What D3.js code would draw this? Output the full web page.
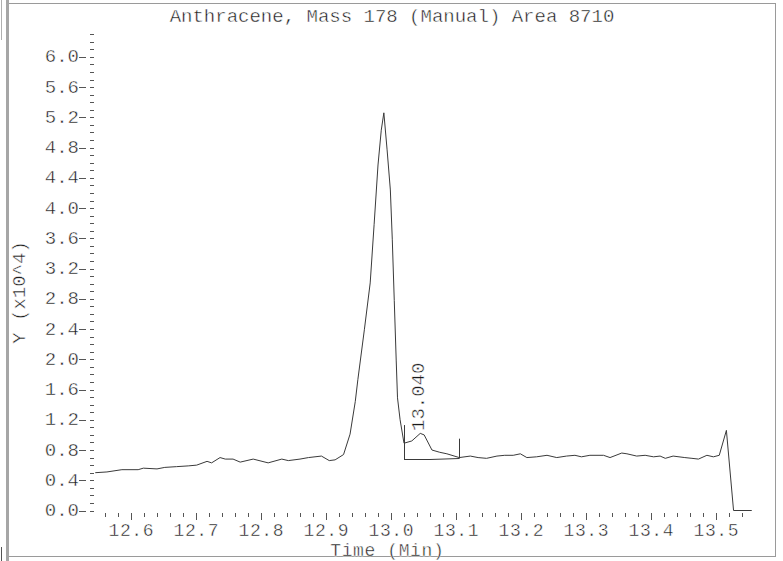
<!DOCTYPE html>
<html>
<head>
<meta charset="utf-8">
<script src="https://cdn.jsdelivr.net/npm/d3@7"></script>
<style>
  html, body { margin: 0; padding: 0; background: #fff; }
  svg { display: block; }
  /* thin, plotter-style lettering: a hairline of white laid over each glyph */
  text {
    font-family: "Liberation Mono", "DejaVu Sans Mono", monospace;
    fill: #1a1a1a;
    stroke: #fff; stroke-width: 0.45px; paint-order: fill;
  }
</style>
</head>
<body>
<svg id="chart" width="783" height="561"></svg>
<script>
// Retention time (min) of each sampled point of the mass-178 trace
const times = [
  12.545, 12.563, 12.586, 12.611, 12.619, 12.640, 12.652, 12.670, 12.688, 12.701,
  12.717, 12.724, 12.737, 12.745, 12.757, 12.768, 12.788, 12.811, 12.832, 12.842,
  12.860, 12.873, 12.893, 12.905, 12.914, 12.927, 12.937, 12.945, 12.949, 12.959,
  12.968, 12.974, 12.980, 12.985, 12.989, 12.994, 12.999, 13.002, 13.005, 13.008,
  13.010, 13.014, 13.020, 13.032, 13.045, 13.051, 13.063, 13.075, 13.086, 13.105,
  13.122, 13.134, 13.147, 13.163, 13.175, 13.188, 13.199, 13.209, 13.224, 13.240,
  13.255, 13.270, 13.283, 13.293, 13.306, 13.327, 13.337, 13.355, 13.363, 13.378,
  13.391, 13.404, 13.414, 13.422, 13.434, 13.452, 13.463, 13.473, 13.486, 13.496,
  13.505, 13.516, 13.527, 13.555
];
// Abundance (x10^4) at each of those times
const abundance = [
  0.50, 0.51, 0.54, 0.54, 0.56, 0.55, 0.57, 0.58, 0.59, 0.60,
  0.65, 0.63, 0.70, 0.68, 0.68, 0.64, 0.68, 0.63, 0.68, 0.66,
  0.68, 0.70, 0.72, 0.66, 0.67, 0.74, 1.01, 1.44, 1.73, 2.39,
  3.01, 3.78, 4.57, 5.03, 5.26, 4.77, 4.24, 3.58, 2.78, 1.99,
  1.49, 1.20, 0.89, 0.92, 1.02, 1.00, 0.80, 0.77, 0.75, 0.70,
  0.72, 0.70, 0.69, 0.72, 0.73, 0.73, 0.75, 0.70, 0.71, 0.73,
  0.70, 0.72, 0.73, 0.71, 0.73, 0.73, 0.70, 0.76, 0.75, 0.72,
  0.73, 0.71, 0.72, 0.69, 0.72, 0.70, 0.69, 0.68, 0.73, 0.71,
  0.73, 1.06, 0.00, 0.00
];

// Integration of the 13.040 peak: baseline points and marker heights
const peakLabel = "13.040";
const peakTime = 13.040;
const baseTimes = [13.020, 13.060, 13.105];
const baseValues = [0.677, 0.677, 0.698];
const markerTops = [1.13, 0.95];

// Axis ticks
const yMajorTicks = [0.0, 0.4, 0.8, 1.2, 1.6, 2.0, 2.4, 2.8, 3.2, 3.6, 4.0, 4.4, 4.8, 5.2, 5.6, 6.0];
const xMajorTicks = [12.6, 12.7, 12.8, 12.9, 13.0, 13.1, 13.2, 13.3, 13.4, 13.5];

const titleText = "Anthracene, Mass 178 (Manual) Area 8710";
const xTitle = "Time (Min)";
const yTitle = "Y (x10^4)";

const svg = d3.select("#chart");

const x = d3.scaleLinear().domain([12.545, 13.555]).range([95.25, 751.75]);
const y = d3.scaleLinear().domain([0, 6.3]).range([510.5, 34.2]);

// Window frame
const frame = svg.append("g").attr("shape-rendering", "crispEdges");
frame.append("rect").attr("x", 6).attr("y", 0).attr("width", 3).attr("height", 561).attr("fill", "#a6a6a6");
frame.append("line").attr("x1", 1.5).attr("x2", 1.5).attr("y1", 0).attr("y2", 40).attr("stroke", "#b0b0b0");
frame.append("line").attr("x1", 1.5).attr("x2", 1.5).attr("y1", 547).attr("y2", 561).attr("stroke", "#555");
frame.append("line").attr("x1", 9).attr("x2", 776).attr("y1", 3.5).attr("y2", 3.5).attr("stroke", "#9a9a9a");
frame.append("line").attr("x1", 775.5).attr("x2", 775.5).attr("y1", 3).attr("y2", 557).attr("stroke", "#9a9a9a");
frame.append("line").attr("x1", 9).attr("x2", 776).attr("y1", 556.5).attr("y2", 556.5).attr("stroke", "#9a9a9a");

// Title
svg.append("text").attr("x", 392).attr("y", 21.5).attr("text-anchor", "middle")
  .attr("font-size", 19).text(titleText);

// Y axis: minor ticks every 0.1, labelled majors every 0.4
const yMinor = d3.range(0, 63 + 1).map(i => i / 10);
const yAxis = svg.append("g").attr("shape-rendering", "crispEdges").attr("stroke", "#555");
yAxis.selectAll("line.minor").data(yMinor).join("line")
  .attr("class", "minor")
  .attr("x1", 90).attr("x2", 94)
  .attr("y1", d => Math.round(y(d)) + 0.5).attr("y2", d => Math.round(y(d)) + 0.5);
yAxis.selectAll("line.major").data(yMajorTicks).join("line")
  .attr("class", "major")
  .attr("x1", 79).attr("x2", 86)
  .attr("y1", d => Math.round(y(d)) + 0.5).attr("y2", d => Math.round(y(d)) + 0.5);
svg.append("g").selectAll("text").data(yMajorTicks).join("text")
  .attr("x", 79).attr("y", d => y(d) + 5.6)
  .attr("text-anchor", "end").attr("font-size", 19)
  .text(d => d3.format(".1f")(d));

// X axis: minor ticks every 0.02 min, labelled majors every 0.1 min
const xMinor = d3.range(0, 50).map(i => +(12.56 + i * 0.02).toFixed(2));
const xAxis = svg.append("g").attr("shape-rendering", "crispEdges").attr("stroke", "#555");
xAxis.selectAll("line").data(xMinor).join("line")
  .attr("x1", d => Math.round(x(d)) + 0.5).attr("x2", d => Math.round(x(d)) + 0.5)
  .attr("y1", 513)
  .attr("y2", d => xMajorTicks.some(m => Math.abs(m - d) < 1e-6) ? 520 : 517);
svg.append("g").selectAll("text").data(xMajorTicks).join("text")
  .attr("x", d => x(d) + 0.3).attr("y", 535.5)
  .attr("text-anchor", "middle").attr("font-size", 18).attr("letter-spacing", 0.6)
  .text(d => d3.format(".1f")(d));

// Axis titles
svg.append("text").attr("x", 387.3).attr("y", 556).attr("text-anchor", "middle")
  .attr("font-size", 18).attr("letter-spacing", 0.6).text(xTitle);
svg.append("text").attr("transform", "translate(25,292.5) rotate(-90)")
  .attr("text-anchor", "middle").attr("font-size", 19).text(yTitle);

// Chromatogram trace
const pts = times.map((t, i) => [t, abundance[i]]);
svg.append("path").datum(pts)
  .attr("fill", "none").attr("stroke", "#3a3a3a").attr("stroke-width", 1)
  .attr("d", d3.line().x(d => x(d[0])).y(d => y(d[1])));

// Integration baseline and peak boundary markers
const marks = svg.append("g").attr("stroke", "#3a3a3a").attr("stroke-width", 1).attr("fill", "none");
marks.append("path")
  .datum(baseTimes.map((t, i) => [t, baseValues[i]]))
  .attr("d", d3.line().x(d => x(d[0])).y(d => Math.round(y(d[1])) + 0.5));
[0, baseTimes.length - 1].forEach((bi, k) => {
  const px = Math.round(x(baseTimes[bi])) + 0.5;
  marks.append("line")
    .attr("x1", px).attr("x2", px)
    .attr("y1", y(markerTops[k])).attr("y2", Math.round(y(baseValues[bi])) + 0.5);
});

// Retention-time label of the integrated peak
svg.append("text")
  .attr("transform", `translate(${x(peakTime) + 6.5},431) rotate(-90)`)
  .attr("font-size", 19).text(peakLabel);
</script>
</body>
</html>
